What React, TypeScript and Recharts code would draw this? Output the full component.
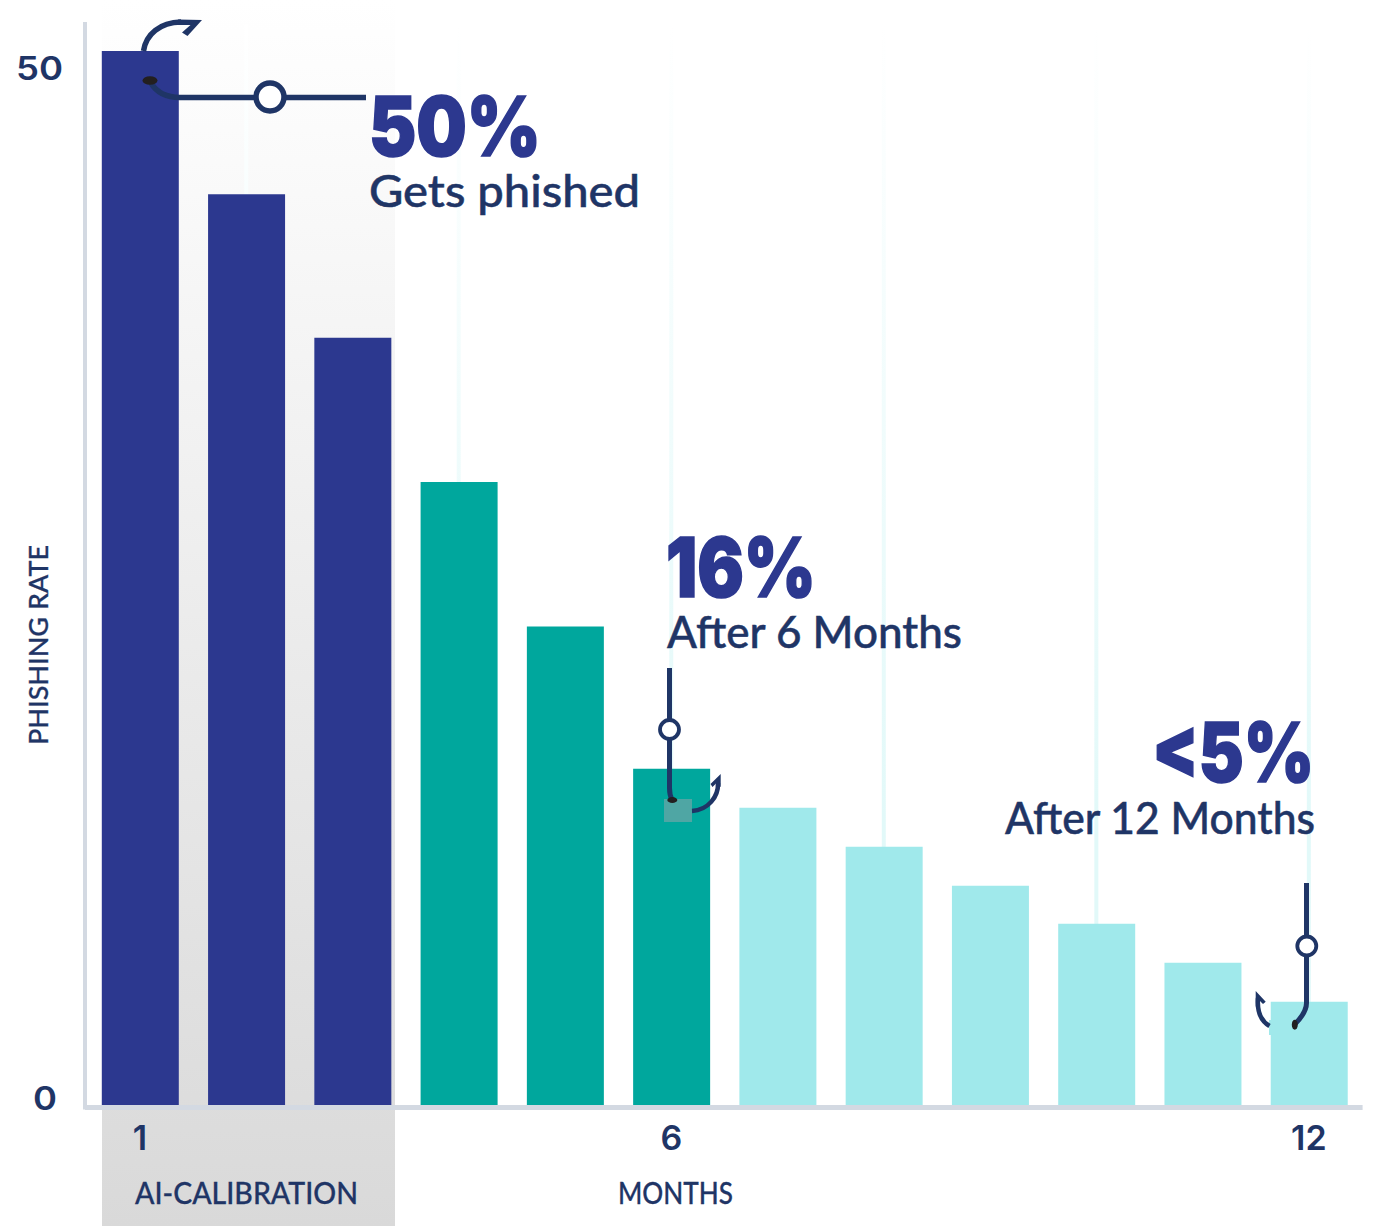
import React from "react";
import { BarChart, Bar, XAxis, YAxis, Cell, ReferenceLine, ZIndexLayer } from "recharts";

const months = [1, 2, 3, 4, 5, 6, 7, 8, 9, 10, 11, 12];
const phishingRate = [50, 43.2, 36.4, 29.55, 22.7, 15.95, 14.1, 12.25, 10.4, 8.6, 6.75, 4.9];
const phases = ["calibration", "calibration", "calibration", "early", "early", "early", "late", "late", "late", "late", "late", "late"];
const monthTicks = [1, 6, 12];
const rateTicks = [0, 50];
const guideMonths = [2, 4, 6, 8, 10, 12];

const phaseColors: Record<string, string> = { calibration: "#2c388f", early: "#00a79d", late: "#a0e9eb" };
const tableRows = months.map((month, i) => ({ month, rate: phishingRate[i], phase: phases[i] }));

const NAVY = "#1f3566";
const INDIGO = "#2c388f";
const FONT = "Lato, sans-serif";
const HEAVY = "Inter, sans-serif";

const YTick = (props: any) => {
  const { y, payload } = props;
  const is50 = payload.value === 50;
  return (
    <text x={is50 ? 16 : 33} y={y + (is50 ? 29 : 5)} fontFamily={HEAVY} fontWeight={600} fontSize={33} fill={NAVY} textLength={is50 ? 47 : 24} lengthAdjust="spacingAndGlyphs">
      {payload.value}
    </text>
  );
};

const XTick = (props: any) => {
  const { x, y, payload } = props;
  return (
    <text x={x} y={y + 34} textAnchor="middle" fontFamily={HEAVY} fontWeight={600} fontSize={34} fill={NAVY}>
      {payload.value}
    </text>
  );
};

const Callout = ({ x, y, big, small, anchor = "start", bigW, smallW, sx, sy }: any) => (
  <g>
    <text x={x} y={y} textAnchor={anchor} fontFamily={HEAVY} fontWeight={900} fontSize={82} fill={INDIGO} stroke={INDIGO} strokeWidth={1.6} textLength={bigW} lengthAdjust="spacingAndGlyphs">{big}</text>
    <text x={sx ?? x} y={y + (sy ?? 51)} textAnchor={anchor} fontFamily={FONT} fontWeight={500} fontSize={44} fill={NAVY} stroke={NAVY} strokeWidth={0.5} textLength={smallW} lengthAdjust="spacingAndGlyphs">{small}</text>
  </g>
);

export default function App() {
  return (
    <div style={{ position: "absolute", left: 0, top: 0, width: 1378, height: 1226 }}>
      <BarChart width={1378} height={1226} data={tableRows} margin={{ top: 24, right: 15.4, bottom: 0, left: 0 }}>
        <defs>
          <linearGradient id="calib" x1="0" y1="0" x2="0" y2="1">
            <stop offset="0" stopColor="#ffffff" />
            <stop offset="1" stopColor="#d9d9d9" />
          </linearGradient>
          <linearGradient id="guide" gradientUnits="userSpaceOnUse" x1="0" y1="24" x2="0" y2="820">
            <stop offset="0" stopColor="#ffffff" />
            <stop offset="1" stopColor="#e2f9f9" />
          </linearGradient>
        </defs>
        <rect x={102} y={0} width={293} height={1226} fill="url(#calib)" />
        <XAxis
          dataKey="month"
          type="category"
          ticks={monthTicks}
          interval={0}
          height={118.5}
          padding={{ left: 1.8, right: 0.6 }}
          tickLine={false}
          axisLine={{ stroke: "#d3d9e2", strokeWidth: 5 }}
          tick={<XTick />}
        />
        <YAxis
          type="number"
          domain={[-0.1186, 51.28]}
          ticks={rateTicks}
          width={85}
          tickLine={false}
          axisLine={{ stroke: "#d3d9e2", strokeWidth: 4, strokeLinecap: "square" }}
          tick={<YTick />}
        />
        {guideMonths.map((m) => (
          <ReferenceLine key={m} x={m} stroke="url(#guide)" strokeWidth={4} zIndex={100} />
        ))}
        <Bar dataKey="rate" barSize={77} isAnimationActive={false}>
          {tableRows.map((r) => (
            <Cell key={r.month} fill={phaseColors[r.phase]} />
          ))}
        </Bar>

        <ZIndexLayer zIndex={3000}>
          <text transform="translate(48,645) rotate(-90)" textAnchor="middle" fontFamily={FONT} fontWeight={500} fontSize={27} fill={NAVY} stroke={NAVY} strokeWidth={0.3} textLength={200} lengthAdjust="spacingAndGlyphs">PHISHING RATE</text>
          <text x={246.5} y={1204} textAnchor="middle" fontFamily={FONT} fontWeight={500} fontSize={30} fill={NAVY} stroke={NAVY} strokeWidth={0.3} textLength={223} lengthAdjust="spacingAndGlyphs">AI-CALIBRATION</text>
          <text x={675.5} y={1204} textAnchor="middle" fontFamily={FONT} fontWeight={500} fontSize={30} fill={NAVY} stroke={NAVY} strokeWidth={0.3} textLength={115} lengthAdjust="spacingAndGlyphs">MONTHS</text>

          <Callout x={369} y={156} big="50%" small="Gets phished" bigW={172} smallW={271} />
          <Callout x={666} y={597} big="16%" small="After 6 Months" bigW={150} smallW={295} sx={667} />
          <Callout x={1314} sx={1315} y={782} sy={52} anchor="end" big="<5%" small="After 12 Months" bigW={162} smallW={310} />

          {/* hook at month 1 */}
          <g fill="none" stroke={NAVY}>
            <path d="M143.5 51 C146 34 160 22.5 181 22" strokeWidth={5.5} />
            <path d="M366 97.5 H180 C168 97.5 157 93 151 83" strokeWidth={5.5} />
            <circle cx={270} cy={97} r={14} strokeWidth={5.5} fill="#ffffff" />
          </g>
          <path d="M202 20 L187.5 36 L182 32.5 L190.5 25 L178 25 L178 19.5 Z" fill={NAVY} />
          <ellipse cx={150} cy={80.5} rx={7.5} ry={4.3} fill="#231f20" />

          {/* hook at month 6 */}
          <rect x={664} y={799} width={28} height={23} fill="#4fa6a4" />
          <g fill="none" stroke={NAVY}>
            <path d="M669.5 668 V788 C669.5 794 670.5 797 672 800" strokeWidth={5} />
            <path d="M692 811 C708 810 718.5 797 718 783" strokeWidth={4.5} />
            <circle cx={669.5} cy={729.5} r={9.5} strokeWidth={3.8} fill="#ffffff" />
          </g>
          <path d="M720.7 774 L710.5 784 L712.5 787 L716 783.5 L720.7 787 Z" fill={NAVY} />
          <ellipse cx={672.3} cy={800} rx={5} ry={3} fill="#231f20" />

          {/* hook at month 12 */}
          <rect x={1269} y={1020} width={3} height={15} fill="#a0e9eb" />
          <g fill="none" stroke={NAVY}>
            <path d="M1306.5 883 V1003 C1306.5 1012 1300 1019 1295 1024" strokeWidth={5} />
            <path d="M1269.5 1026 C1261 1021 1257 1011 1258 998" strokeWidth={4.5} />
            <circle cx={1306.8} cy={946} r={9.5} strokeWidth={3.8} fill="#ffffff" />
          </g>
          <path d="M1255.7 991 L1265.7 1001.7 L1263 1004 L1259.5 1000.5 L1255.7 1006.7 Z" fill={NAVY} />
          <ellipse cx={1294.8} cy={1024.7} rx={3} ry={5} fill="#231f20" />
        </ZIndexLayer>
      </BarChart>
    </div>
  );
}
